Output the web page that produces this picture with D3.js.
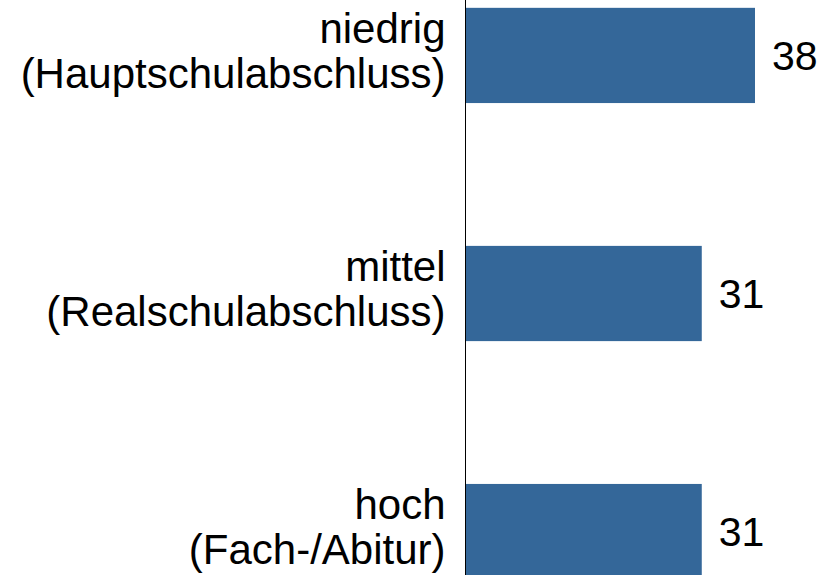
<!DOCTYPE html>
<html>
<head>
<meta charset="utf-8">
<script src="https://cdn.jsdelivr.net/npm/d3@7"></script>
<style>
  body { margin: 0; background: #fff; }
  svg { display: block; }
  text { font-family: "Liberation Sans", Arial, sans-serif; fill: #000; }
</style>
</head>
<body>
<svg id="chart" width="821" height="575"></svg>
<script>
// data
var categories = ["niedrig", "mittel", "hoch"];
var subLabels = ["(Hauptschulabschluss)", "(Realschulabschluss)", "(Fach-/Abitur)"];
var values = [38, 31, 31];

var svg = d3.select("#chart"),
  width = +svg.attr("width"),
  height = +svg.attr("height");

var axisX = 465.5;

// scales
var x = d3.scaleLinear()
  .domain([0, 38])
  .range([axisX + 0.5, 755]);

var y = d3.scaleBand()
  .domain(categories)
  .range([-135, 722])
  .padding(0.6);

// bars
svg.append("g")
  .selectAll("rect")
  .data(categories)
  .enter()
  .append("rect")
    .attr("x", x(0))
    .attr("y", function(d) { return y(d); })
    .attr("width", function(d, i) { return x(values[i]) - x(0); })
    .attr("height", y.bandwidth())
    .attr("fill", "#346799");

// value labels
svg.append("g")
  .selectAll("text")
  .data(categories)
  .enter()
  .append("text")
    .attr("x", function(d, i) { return x(values[i]) + 17; })
    .attr("y", function(d) { return y(d) + y.bandwidth() / 2; })
    .attr("dy", "0.35em")
    .style("font-size", "41px")
    .text(function(d, i) { return values[i]; });

// category labels, two lines each
var labels = svg.append("g")
  .selectAll("text")
  .data(categories)
  .enter()
  .append("text")
    .attr("text-anchor", "end")
    .style("font-size", "42px");

labels.append("tspan")
  .attr("x", axisX - 20)
  .attr("y", function(d) { return y(d) + y.bandwidth() / 2 - 12.5; })
  .text(function(d) { return d; });

labels.append("tspan")
  .attr("x", axisX - 20)
  .attr("y", function(d) { return y(d) + y.bandwidth() / 2 + 32.5; })
  .text(function(d, i) { return subLabels[i]; });

// vertical axis line
svg.append("line")
  .attr("x1", axisX)
  .attr("x2", axisX)
  .attr("y1", 0)
  .attr("y2", height)
  .attr("stroke", "#000")
  .attr("stroke-width", 1);
</script>
</body>
</html>
